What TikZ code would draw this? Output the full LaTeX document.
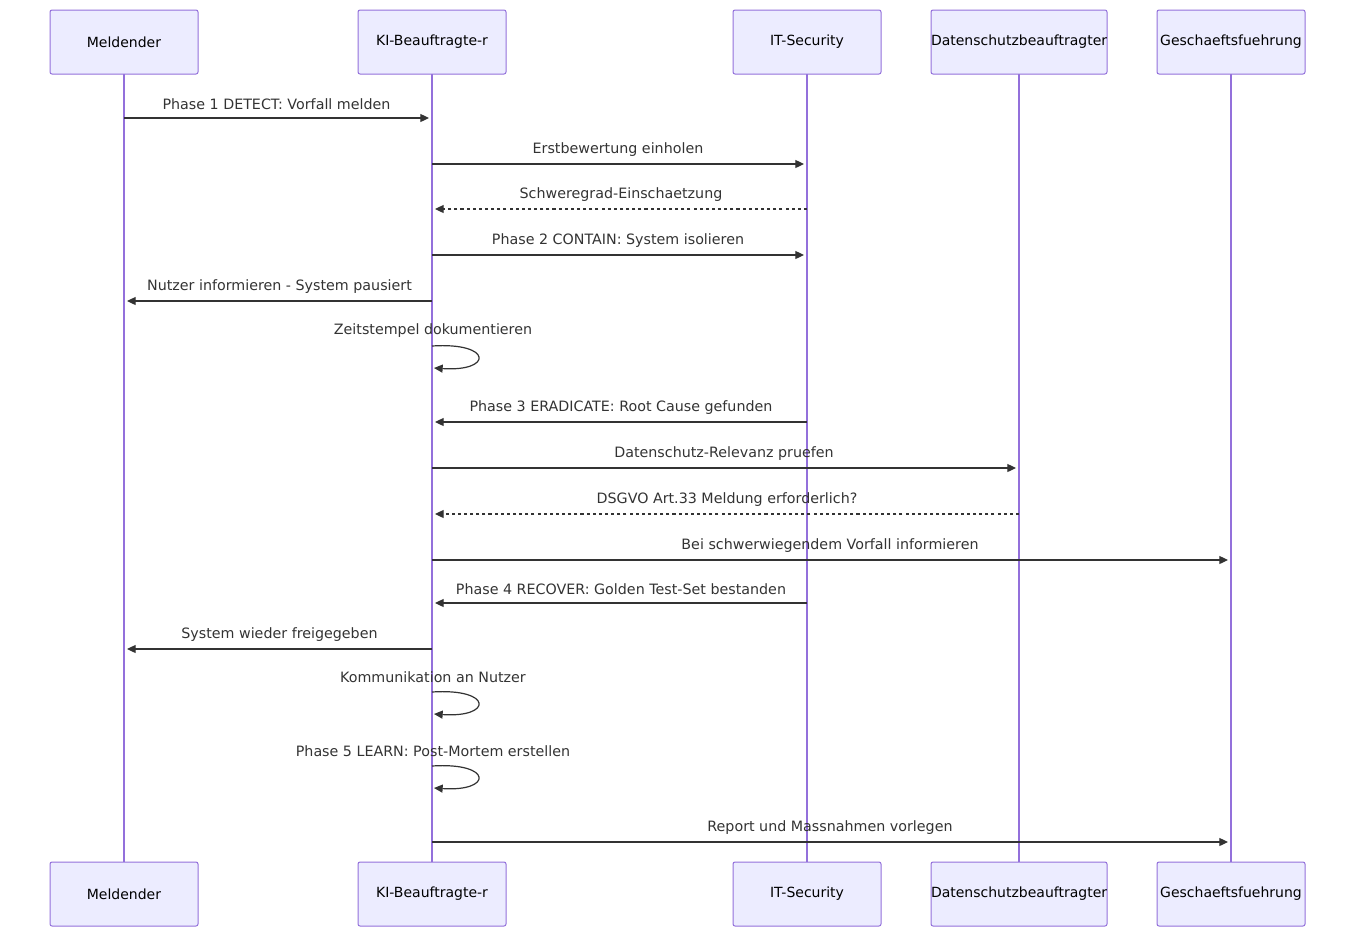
\documentclass[tikz,border=0pt]{standalone}
\usepackage{fontspec}
\setmainfont{DejaVu Sans}
\usetikzlibrary{arrows.meta,calc}
\definecolor{boxfill}{HTML}{ECECFF}
\definecolor{boxline}{HTML}{9370DB}
\definecolor{ink}{HTML}{333333}
\begin{document}
\begin{tikzpicture}[x=0.75pt,y=-0.75pt,
  actor/.style={draw=boxline,fill=boxfill,line width=0.75pt,rounded corners=1.5pt,minimum width=111pt,minimum height=48pt,inner sep=0pt,font=\fontsize{10.5}{13}\selectfont,text=black},
  life/.style={draw=boxline,line width=1.1pt},
  msg/.style={draw=ink,line width=0.9pt,-{Triangle[length=6.5pt,width=6pt]}},
  dmsg/.style={msg,dash pattern=on 2.3pt off 2.3pt},
  lbl/.style={font=\fontsize{10.7}{13}\selectfont,text=ink,inner sep=0pt}]
\useasboundingbox (0,0) rectangle (1364,943);
\foreach \x/\n/\t/\w in {124/a/Meldender/111,432/b/KI-Beauftragte-r/111,807/c/IT-Security/111,1019/d/Datenschutzbeauftragter/132,1231/e/Geschaeftsfuehrung/111}{
  \coordinate (\n t) at (\x,74); \coordinate (\n b) at (\x,862);
  \draw[life] (\n t) -- (\n b);
  \node[actor,text width=\w pt,align=center] (\n top) at (\x,42) {\t};
  \node[actor,text width=\w pt,align=center] (\n bot) at (\x,894) {\t};
}
\foreach \y/\fx/\tx/\l/\s in {
 118/124/429/{Phase 1 DETECT: Vorfall melden}/msg,
 164/432/804/{Erstbewertung einholen}/msg,
 209/807/435/{Schweregrad-Einschaetzung}/dmsg,
 255/432/804/{Phase 2 CONTAIN: System isolieren}/msg,
 301/432/127/{Nutzer informieren - System pausiert}/msg,
 422/807/435/{Phase 3 ERADICATE: Root Cause gefunden}/msg,
 468/432/1016/{Datenschutz-Relevanz pruefen}/msg,
 514/1019/435/{DSGVO Art.33 Meldung erforderlich?}/dmsg,
 560/432/1228/{Bei schwerwiegendem Vorfall informieren}/msg,
 603/807/435/{Phase 4 RECOVER: Golden Test-Set bestanden}/msg,
 649/432/127/{System wieder freigegeben}/msg,
 842/432/1228/{Report und Massnahmen vorlegen}/msg}{
  \coordinate (s) at (\fx,\y); \coordinate (t) at (\tx,\y);
  \draw[\s] (s) -- (t);
  \node[lbl] (m) at ($(s)!0.5!(t)+(0,-14)$) {\l};
}
\foreach \y/\l in {346/{Zeitstempel dokumentieren},692/{Kommunikation an Nutzer},766/{Phase 5 LEARN: Post-Mortem erstellen}}{
  \coordinate (s) at (432,\y); \coordinate (t) at (434,\y+22);
  \draw[msg] (s) .. controls (493,\y-4) and (493,\y+26) .. (t);
  \node[lbl] (m) at (433,\y-15) {\l};
}
\end{tikzpicture}
\end{document}
